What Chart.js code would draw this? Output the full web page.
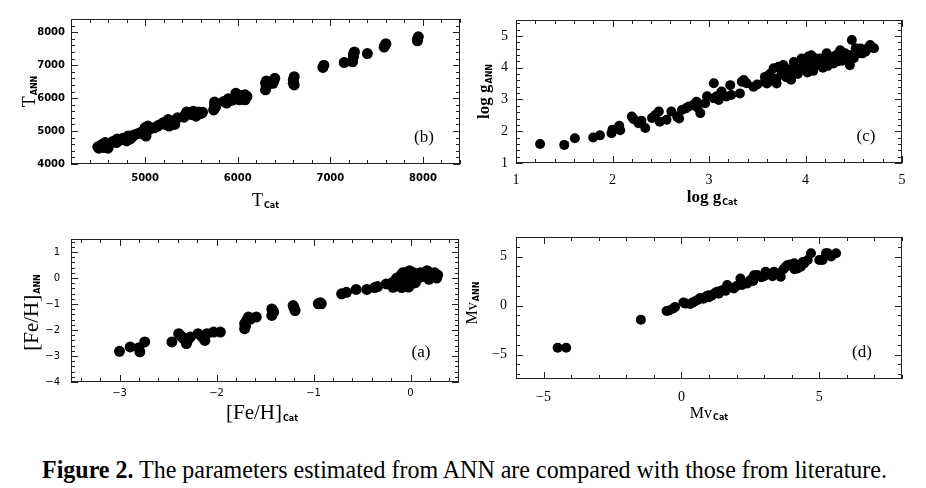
<!DOCTYPE html>
<html>
<head>
<meta charset="utf-8">
<script src="https://cdn.jsdelivr.net/npm/chart.js@4.4.1/dist/chart.umd.min.js"></script>
<style>
  body { margin: 0; background: #fff; width: 926px; height: 488px; overflow: hidden; position: relative; }
  .panel { position: absolute; }
  #caption { position: absolute; left: 42px; top: 455px; font-family: "Liberation Serif", serif; font-size: 26px; line-height: 30px; color: #000; white-space: nowrap; transform-origin: 0 0; }
</style>
</head>
<body>
<div class="panel" id="wrapB"><canvas id="chartB"></canvas></div>
<div class="panel" id="wrapC"><canvas id="chartC"></canvas></div>
<div class="panel" id="wrapA"><canvas id="chartA"></canvas></div>
<div class="panel" id="wrapD"><canvas id="chartD"></canvas></div>
<div id="caption"><b>Figure 2.</b> The parameters estimated from ANN are compared with those from literature.</div>
<script>
// (b) effective temperature
const tCat = [4490, 4500, 4520, 4540, 4560, 4570, 4590, 4600, 4610, 4680, 4700, 4720, 4690,
    4790, 4800, 4820, 4840, 4880, 4920, 4950, 4990, 5000, 5010, 5020, 5030, 5040, 5100, 5150, 5130,
    5220, 5250, 5260, 5280, 5300, 5320, 5420, 5450, 5430, 5500, 5520, 5550, 5580, 5600,
    5740, 5750, 5760, 5750, 5850, 5880, 5900, 5950, 5980, 6000, 6020, 6050, 6080, 6100, 6080,
    6300, 6300, 6310, 6310, 6380, 6400, 6390, 6600, 6600, 6610, 6610, 6920, 6930, 7150,
    7240, 7250, 7260, 7250, 7400, 7580, 7600, 7590, 7940, 7950, 7940,
    4650, 4760, 4860, 4970, 5060, 5200, 5350, 5480, 5620, 5920, 6040];
const tAnn = [4520, 4480, 4560, 4600, 4500, 4650, 4540, 4480, 4600, 4700, 4760, 4720, 4650,
    4800, 4700, 4850, 4760, 4880, 4920, 4950, 4900, 5100, 4850, 5000, 5150, 5050, 5100, 5180, 5140,
    5200, 5350, 5150, 5250, 5300, 5200, 5420, 5580, 5480, 5500, 5600, 5450, 5580, 5530,
    5640, 5780, 5720, 5880, 5900, 5850, 5980, 5950, 6150, 6050, 5950, 6000, 6100, 6050, 5950,
    6250, 6450, 6350, 6520, 6450, 6600, 6530, 6450, 6550, 6400, 6650, 6930, 7000, 7080,
    7100, 7250, 7400, 7340, 7350, 7550, 7650, 7600, 7780, 7860, 7740,
    4680, 4780, 4820, 4980, 5080, 5260, 5400, 5560, 5570, 5920, 6080];

// (c) surface gravity
const gCat = [1.25, 1.5, 1.61, 1.8, 1.87, 1.99, 2.0, 2.07, 2.08, 2.2, 2.22, 2.27, 2.34, 2.3, 2.41, 2.48, 2.49, 2.44,
    2.56, 2.61, 2.67, 2.69, 2.72, 2.79, 2.76, 2.84, 2.87, 2.91, 2.88, 2.96, 2.98, 3.05, 3.05, 3.1, 3.13, 3.08,
    3.18, 3.22, 3.23, 3.32, 3.34, 3.39, 3.36, 3.46, 3.5, 3.58, 3.6, 3.58, 3.63, 3.67, 3.7, 3.7, 3.72,
    3.76, 3.77, 3.8, 3.84, 3.85, 3.88, 3.9, 3.94, 3.96, 3.98, 4.01, 4.03, 4.06, 4.08, 4.1, 4.12, 4.15, 4.18,
    4.22, 4.25, 4.27, 4.29, 4.32, 4.36, 4.38, 4.41, 4.43, 4.46, 4.48, 4.52, 4.55, 4.59, 4.62, 4.67, 4.71,
    3.65, 3.75, 3.82, 3.87, 3.92, 3.95, 4.0, 4.02, 4.05, 4.1, 4.14, 4.2, 4.23, 4.3, 4.34, 4.4, 4.45, 4.5,
    4.57, 4.64, 4.68, 3.62, 3.8, 4.17];
const gAnn = [1.6, 1.57, 1.78, 1.8, 1.87, 1.94, 2.05, 2.17, 2.03, 2.46, 2.38, 2.25, 2.1, 2.33, 2.42, 2.62, 2.3, 2.5,
    2.36, 2.62, 2.46, 2.4, 2.67, 2.78, 2.72, 2.83, 2.93, 2.57, 2.75, 2.88, 3.1, 3.51, 3.04, 2.98, 3.25, 3.1,
    3.09, 3.45, 3.14, 3.19, 3.56, 3.51, 3.61, 3.4, 3.47, 3.56, 3.5, 3.71, 3.8, 3.98, 3.66, 3.5, 4.03,
    3.82, 4.08, 3.7, 3.77, 3.62, 4.18, 3.95, 3.95, 4.29, 4.1, 3.98, 4.35, 4.39, 3.9, 4.08, 4.2, 4.29, 4.0,
    4.45, 4.18, 4.3, 4.13, 4.4, 4.55, 4.22, 4.45, 4.29, 4.08, 4.87, 4.61, 4.45, 4.45, 4.5, 4.71, 4.61,
    3.6, 3.9, 3.95, 3.88, 3.8, 4.0, 4.15, 3.85, 4.2, 4.3, 4.1, 4.25, 4.05, 4.35, 4.2, 4.3, 4.4, 4.3,
    4.6, 4.6, 4.65, 3.75, 3.85, 4.15];

// (a) metallicity
const fehCat = [-3.0, -2.89, -2.79, -2.8, -2.74, -2.46, -2.39, -2.36, -2.34, -2.31, -2.27, -2.3,
    -2.19, -2.12, -2.1, -2.15, -2.03, -1.96, -1.71, -1.71, -1.7, -1.69, -1.67, -1.65, -1.59,
    -1.43, -1.43, -1.41, -1.42, -1.21, -1.19, -1.2, -0.95, -0.92, -0.93,
    -0.71, -0.66, -0.56, -0.45, -0.37, -0.34, -0.25, -0.19, -0.18, -0.14, -0.12, -0.09, -0.08, -0.06,
    -0.04, -0.03, -0.01, 0.0, 0.02, 0.05, 0.06, 0.08, 0.1, 0.12, 0.17, 0.19, 0.22, 0.25, 0.27, 0.28,
    -0.16, -0.1, -0.05, 0.0, 0.03, 0.08, 0.14, 0.2, 0.24, -0.02, 0.04];
const fehAnn = [-2.82, -2.65, -2.84, -2.68, -2.46, -2.46, -2.14, -2.25, -2.33, -2.52, -2.27, -2.42,
    -2.14, -2.4, -2.14, -2.25, -2.08, -2.08, -1.76, -1.95, -1.85, -1.63, -1.5, -1.58, -1.5,
    -1.19, -1.44, -1.31, -1.25, -1.06, -1.25, -1.15, -0.99, -0.99, -0.95,
    -0.61, -0.55, -0.44, -0.44, -0.37, -0.33, -0.23, -0.18, -0.36, 0.0, -0.12, -0.37, 0.2, 0.05,
    -0.3, -0.15, 0.28, 0.1, -0.05, -0.18, 0.15, 0.0, 0.2, 0.05, 0.28, -0.05, 0.1, 0.2, 0.0, 0.12,
    -0.1, 0.1, 0.2, -0.25, 0.2, 0.12, 0.1, 0.2, 0.05, -0.35, 0.05];

// (d) absolute magnitude
const mvCat = [-4.49, -4.18, -1.47, -0.54, -0.45, -0.23, -0.3, 0.07, 0.15, 0.32, 0.4, 0.5, 0.6, 0.68, 0.8,
    0.9, 0.99, 1.1, 1.2, 1.29, 1.4, 1.5, 1.66, 1.75, 1.9, 2.0, 2.14, 2.25, 2.39, 2.5, 2.63, 2.75, 2.9,
    3.05, 3.2, 3.36, 3.6, 3.54, 3.7, 3.78, 3.85, 4.09, 4.21, 4.33, 4.45, 4.58, 4.7, 5.0, 5.12, 5.24,
    5.31, 5.43, 5.61, 1.0, 1.35, 1.6, 2.2, 2.6, 3.0, 3.3, 3.95, 4.1, 4.4];
const mvAnn = [-4.3, -4.3, -1.45, -0.55, -0.5, -0.14, -0.3, 0.31, 0.2, 0.15, 0.3, 0.45, 0.6, 0.78, 0.7,
    0.95, 1.06, 1.0, 1.25, 1.4, 1.45, 1.6, 2.09, 1.85, 1.75, 2.0, 2.77, 2.3, 2.26, 2.6, 3.1, 3.11, 2.9,
    3.45, 3.2, 3.45, 2.94, 3.28, 3.7, 3.96, 4.14, 4.32, 3.79, 3.97, 4.3, 4.66, 5.34, 4.65, 4.66, 5.34,
    5.34, 5.0, 5.34, 0.85, 1.2, 1.5, 2.1, 2.5, 3.0, 3.0, 4.2, 3.7, 4.45];

// tick labels (major ticks)
const tTicksX = [5000, 6000, 7000, 8000];
const tTicksY = [4000, 5000, 6000, 7000, 8000];
const gTicksX = [1, 2, 3, 4, 5];
const gTicksY = [1, 2, 3, 4, 5];
const fehTicksX = [-3, -2, -1, 0];
const fehTicksY = [-4, -3, -2, -1, 0, 1];
const mvTicksX = [-5, 0, 5];
const mvTicksY = [-5, 0, 5];

const PAD_T = 24, PAD_R = 24, YW = 70, XH = 60;

function fmt(v) {
    return String(v).replace('-', '\u2212');
}

function axis(min, max, minor, majors, font, pad, side) {
    return {
        type: 'linear',
        min: min,
        max: max,
        grid: { display: false, drawTicks: false },
        border: { display: false },
        afterBuildTicks: s => {
            const list = [];
            for (let k = Math.ceil(min / minor - 1e-6); k * minor <= max + 1e-6; k++) {
                list.push({ value: Math.round(k * minor * 1e6) / 1e6 });
            }
            s.ticks = list;
        },
        afterFit: s => {
            if (side === 'x') s.height = XH; else s.width = YW;
        },
        ticks: {
            autoSkip: false,
            maxRotation: 0,
            padding: pad,
            color: '#000',
            font: font,
            callback: v => majors.some(m => Math.abs(m - v) < 1e-6) ? fmt(v) : ''
        }
    };
}

function drawTitle(ctx, cx, cy, t, rotate) {
    ctx.save();
    ctx.translate(cx, cy);
    if (rotate) ctx.rotate(-Math.PI / 2);
    ctx.textBaseline = 'middle';
    ctx.textAlign = 'left';
    ctx.font = t.font;
    const w1 = ctx.measureText(t.main).width;
    ctx.font = t.subFont;
    const w2 = ctx.measureText(t.sub).width;
    let x = -(w1 + w2 + 1) / 2;
    ctx.fillStyle = '#000';
    ctx.font = t.font;
    ctx.fillText(t.main, x, 0);
    ctx.font = t.subFont;
    ctx.fillText(t.sub, x + w1 + 1, t.drop);
    ctx.restore();
}

// inward ticks on all four sides, frame, axis titles and panel tag
const frameTicks = {
    id: 'frameTicks',
    afterDatasetsDraw(chart, args, o) {
        const { ctx, chartArea: a, scales } = chart;
        ctx.save();
        ctx.strokeStyle = '#222';
        ctx.lineWidth = 1;
        ctx.strokeRect(a.left + 0.5, a.top + 0.5, a.right - a.left - 1, a.bottom - a.top - 1);
        ['x', 'y'].forEach(id => {
            const s = scales[id];
            s.ticks.forEach(t => {
                const p = Math.round(s.getPixelForValue(t.value)) + 0.5;
                const len = t.label !== '' ? 7 : 4;
                ctx.beginPath();
                if (id === 'x') {
                    ctx.moveTo(p, a.bottom); ctx.lineTo(p, a.bottom - len);
                    ctx.moveTo(p, a.top); ctx.lineTo(p, a.top + len);
                } else {
                    ctx.moveTo(a.left, p); ctx.lineTo(a.left + len, p);
                    ctx.moveTo(a.right, p); ctx.lineTo(a.right - len, p);
                }
                ctx.stroke();
            });
        });
        drawTitle(ctx, (a.left + a.right) / 2 + o.xTitle.dx, a.bottom + o.xTitle.dy, o.xTitle, false);
        drawTitle(ctx, a.left + o.yTitle.dx, (a.top + a.bottom) / 2 + o.yTitle.dy, o.yTitle, true);
        ctx.font = '17px "Liberation Serif"';
        ctx.fillStyle = '#000';
        ctx.textAlign = 'center';
        ctx.textBaseline = 'middle';
        ctx.fillText(o.tag.text, a.right - o.tag.dx, a.bottom - o.tag.dy);
        ctx.restore();
    }
};

function makePanel(id, box, xs, ys, data, opts) {
    const [L, T, R, B] = box;
    const wrap = document.getElementById('wrap' + id);
    const cv = document.getElementById('chart' + id);
    const w = R - L + YW + PAD_R, h = B - T + PAD_T + XH;
    wrap.style.left = (L - YW) + 'px';
    wrap.style.top = (T - PAD_T) + 'px';
    wrap.style.width = w + 'px';
    wrap.style.height = h + 'px';
    cv.width = w; cv.height = h;
    cv.style.width = w + 'px'; cv.style.height = h + 'px';
    new Chart(cv, {
        type: 'scatter',
        data: {
            datasets: [{
                data: data,
                pointRadius: opts.r,
                pointBackgroundColor: '#000',
                pointBorderWidth: 0,
                pointBorderColor: '#000'
            }]
        },
        options: {
            responsive: false,
            animation: false,
            events: [],
            layout: { padding: { top: PAD_T, right: PAD_R, left: 0, bottom: 0 } },
            scales: { x: xs, y: ys },
            plugins: { legend: { display: false }, tooltip: { enabled: false }, frameTicks: opts }
        },
        plugins: [frameTicks]
    });
}

const pts = (xa, ya) => xa.map((x, i) => ({ x: x, y: ya[i] }));

const sansB = { family: 'DejaVu Sans', size: 10, weight: 'bold' };
const sansA = { family: 'DejaVu Sans', size: 10 };
const serif = { family: 'Liberation Serif', size: 14 };
const subF = 'bold 8px "DejaVu Sans"';

makePanel('B', [71, 19, 460, 164],
    axis(4200, 8400, 200, tTicksX, sansB, 8, 'x'),
    axis(4000, 8400, 200, tTicksY, sansB, 6, 'y'),
    pts(tCat, tAnn),
    { r: 5.5,
      xTitle: { main: 'T', sub: 'Cat', font: '18px "Liberation Serif"', subFont: subF, drop: 5, dx: 0, dy: 37 },
      yTitle: { main: 'T', sub: 'ANN', font: '18px "Liberation Serif"', subFont: subF, drop: 5, dx: -41, dy: 0 },
      tag: { text: '(b)', dx: 36, dy: 26 } });

makePanel('C', [516, 20, 902, 163],
    axis(1, 5, 0.2, gTicksX, serif, 9, 'x'),
    axis(1, 5.5, 0.2, gTicksY, serif, 8, 'y'),
    pts(gCat, gAnn),
    { r: 5,
      xTitle: { main: 'log g', sub: 'Cat', font: 'bold 17px "Liberation Serif"', subFont: subF, drop: 5, dx: 3, dy: 35 },
      yTitle: { main: 'log g', sub: 'ANN', font: 'bold 17px "Liberation Serif"', subFont: subF, drop: 5, dx: -31, dy: 0 },
      tag: { text: '(c)', dx: 36, dy: 26 } });

makePanel('A', [71, 239, 459, 382],
    axis(-3.5, 0.5, 0.2, fehTicksX, sansA, 5, 'x'),
    axis(-4, 1.5, 0.2, fehTicksY, sansA, 11, 'y'),
    pts(fehCat, fehAnn),
    { r: 5.5,
      xTitle: { main: '[Fe/H]', sub: 'Cat', font: '21px "Liberation Serif"', subFont: subF, drop: 6, dx: -3, dy: 31 },
      yTitle: { main: '[Fe/H]', sub: 'ANN', font: '21px "Liberation Serif"', subFont: subF, drop: 6, dx: -39, dy: 2 },
      tag: { text: '(a)', dx: 38, dy: 29 } });

makePanel('D', [516, 237, 902, 379],
    axis(-6, 8, 1, mvTicksX, serif, 10, 'x'),
    axis(-7.5, 7, 1, mvTicksY, serif, 9, 'y'),
    pts(mvCat, mvAnn),
    { r: 5,
      xTitle: { main: 'Mv', sub: 'Cat', font: '16px "Liberation Serif"', subFont: subF, drop: 4, dx: 0, dy: 35 },
      yTitle: { main: 'Mv', sub: 'ANN', font: '16px "Liberation Serif"', subFont: subF, drop: 4, dx: -43, dy: -5 },
      tag: { text: '(d)', dx: 40, dy: 26 } });

// stretch the caption to the width it has in the figure
const cap = document.getElementById('caption');
cap.style.transform = 'scaleX(' + (845 / cap.offsetWidth) + ')';
</script>
</body>
</html>
